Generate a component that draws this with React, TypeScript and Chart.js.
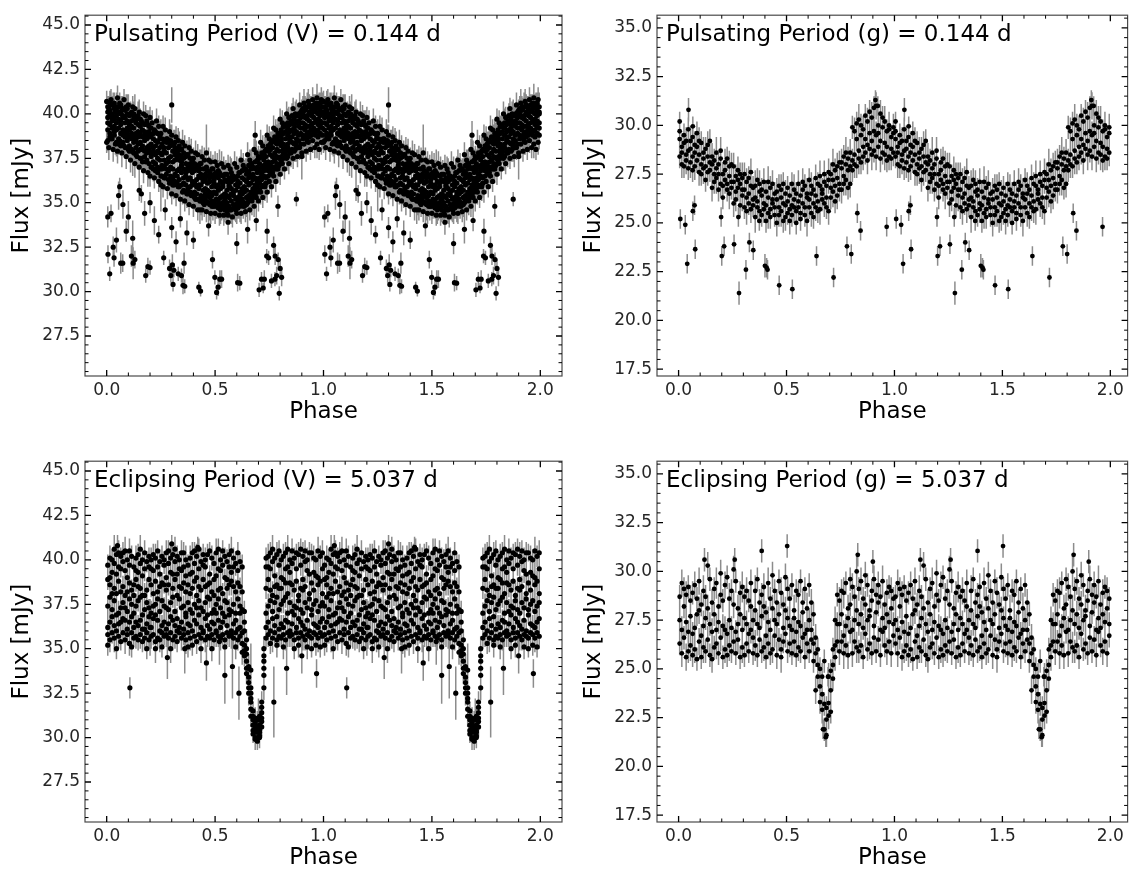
import React, { useEffect, useRef } from "react";
import { Chart, registerables } from "chart.js";

Chart.register(...registerables);

const FONT = "'DejaVu Sans', 'Liberation Sans', sans-serif";

// ---------------- DATA ----------------
// Each bin row: [phase, error, flux samples...]  (phase 0..1, drawn again at phase+1)
// Each extra row: [phase, flux, error]
const CYCLES = [0, 1];

const vPulsBins: number[][] = [
  [0.005, 0.6, 40.4, 39.1, 39.8, 38.5, 40.1, 39.5], [0.015, 0.7, 39.9, 40.6, 38.9, 39.4, 40.2, 38.7],
  [0.025, 0.5, 38.6, 39.6, 40.5, 40.0, 39.2, 39.8], [0.035, 0.6, 40.3, 39.0, 38.8, 39.7, 40.6, 39.3],
  [0.045, 0.8, 39.5, 40.2, 39.9, 38.4, 39.1, 40.4], [0.055, 0.6, 40.1, 38.6, 39.7, 39.2, 40.4, 38.3],
  [0.065, 0.5, 38.9, 40.0, 39.4, 40.5, 38.2, 39.6], [0.075, 0.7, 39.8, 38.4, 40.3, 39.1, 38.8, 39.9],
  [0.085, 0.6, 40.2, 39.5, 38.1, 39.0, 39.8, 38.7], [0.095, 0.8, 38.5, 39.2, 40.0, 38.9, 40.3, 39.6],
  [0.105, 0.6, 39.4, 38.2, 39.9, 38.7, 39.1, 37.9], [0.115, 0.5, 38.0, 39.6, 38.6, 40.1, 38.9, 39.3],
  [0.125, 0.7, 39.8, 38.4, 37.8, 39.2, 38.7, 40.0], [0.135, 0.6, 38.9, 39.5, 38.1, 37.7, 39.7, 38.5],
  [0.145, 0.8, 37.9, 38.7, 39.9, 39.0, 38.3, 39.4], [0.155, 0.6, 39.3, 38.0, 37.5, 38.9, 39.7, 38.4],
  [0.165, 0.5, 38.2, 39.5, 38.7, 37.3, 38.0, 39.1], [0.175, 0.7, 39.0, 37.6, 38.5, 39.4, 37.9, 38.8],
  [0.185, 0.6, 37.4, 38.9, 39.6, 38.1, 38.6, 37.8], [0.195, 0.9, 38.7, 38.2, 37.2, 39.3, 38.0, 39.0],
  [0.205, 0.6, 37.6, 38.8, 37.0, 38.3, 39.2, 37.8], [0.215, 0.7, 38.9, 37.3, 38.1, 36.9, 38.6, 37.9],
  [0.225, 0.5, 37.2, 38.5, 39.0, 37.7, 36.8, 38.2], [0.235, 0.6, 38.4, 37.0, 37.9, 38.9, 37.5, 36.7],
  [0.245, 0.8, 36.9, 38.1, 38.6, 37.4, 38.8, 37.8], [0.255, 0.6, 38.3, 36.5, 37.7, 38.6, 37.1, 36.9],
  [0.265, 0.7, 37.4, 38.5, 36.4, 37.9, 38.1, 37.0], [0.275, 0.6, 36.6, 37.2, 38.4, 36.9, 37.8, 38.6],
  [0.285, 0.5, 38.1, 36.8, 37.5, 38.4, 36.3, 37.3], [0.295, 0.9, 37.0, 38.2, 36.5, 37.6, 38.5, 36.2],
  [0.305, 0.6, 37.9, 36.4, 37.3, 38.3, 36.0, 36.9], [0.315, 0.7, 36.6, 37.7, 38.1, 36.2, 37.4, 38.4],
  [0.325, 0.6, 38.0, 36.8, 36.1, 37.5, 37.9, 36.5], [0.335, 0.8, 36.3, 37.4, 38.2, 36.9, 35.9, 37.7],
  [0.345, 0.6, 37.6, 36.0, 37.1, 38.0, 36.7, 37.3], [0.355, 0.5, 36.4, 37.5, 35.7, 36.9, 37.8, 36.1],
  [0.365, 0.7, 37.2, 36.0, 36.7, 35.6, 37.6, 36.5], [0.375, 0.6, 35.8, 37.0, 37.7, 36.3, 36.8, 35.5],
  [0.385, 0.8, 36.9, 35.9, 36.4, 37.5, 35.6, 37.2], [0.395, 0.6, 36.2, 37.4, 35.4, 36.7, 37.1, 36.0],
  [0.405, 0.7, 35.6, 36.8, 37.2, 35.3, 36.1, 36.9], [0.415, 0.6, 36.9, 35.5, 36.3, 37.1, 35.9, 35.2],
  [0.425, 0.5, 35.8, 37.0, 35.2, 36.5, 36.8, 36.0], [0.435, 0.8, 36.6, 35.4, 36.0, 37.2, 35.1, 36.4],
  [0.445, 0.6, 35.3, 36.4, 36.9, 35.7, 36.2, 35.0], [0.455, 0.7, 36.3, 35.2, 35.8, 36.9, 35.5, 36.6],
  [0.465, 0.6, 35.0, 36.5, 36.1, 35.4, 36.8, 35.7], [0.475, 0.9, 36.7, 35.6, 34.9, 36.2, 35.3, 36.4],
  [0.485, 0.6, 35.4, 36.9, 35.9, 34.8, 36.5, 35.1], [0.495, 0.5, 36.1, 35.0, 36.6, 35.6, 34.8, 36.3],
  [0.505, 0.7, 35.2, 36.5, 34.8, 35.9, 36.7, 35.5], [0.515, 0.6, 36.4, 35.1, 35.7, 36.8, 34.7, 36.0],
  [0.525, 0.8, 34.9, 36.2, 36.6, 35.3, 35.8, 34.6], [0.535, 0.6, 35.9, 34.7, 35.4, 36.5, 36.1, 35.0],
  [0.545, 0.7, 36.6, 35.5, 34.9, 35.2, 36.3, 34.6], [0.555, 0.6, 35.0, 36.2, 35.7, 34.5, 36.6, 35.4],
  [0.565, 0.5, 36.4, 34.8, 35.3, 36.0, 34.6, 35.9], [0.575, 0.8, 35.5, 36.7, 34.6, 35.1, 36.2, 35.8],
  [0.585, 0.6, 34.7, 35.6, 36.3, 34.9, 35.4, 36.5], [0.595, 0.7, 36.0, 35.2, 34.6, 36.4, 35.7, 34.9],
  [0.605, 0.6, 35.3, 36.5, 35.9, 34.7, 36.2, 35.0], [0.615, 0.9, 36.7, 35.1, 34.8, 35.6, 36.1, 35.4],
  [0.625, 0.6, 34.9, 35.8, 36.4, 35.2, 36.8, 35.5], [0.635, 0.5, 35.6, 36.9, 35.0, 36.3, 34.8, 35.9],
  [0.645, 0.7, 36.2, 34.9, 35.7, 36.6, 35.3, 36.8], [0.655, 0.6, 35.4, 36.7, 36.0, 35.1, 37.1, 36.4],
  [0.665, 0.8, 36.9, 35.6, 35.2, 36.5, 36.1, 37.2], [0.675, 0.6, 35.8, 37.0, 36.6, 35.3, 36.3, 35.5],
  [0.685, 0.7, 36.4, 35.5, 37.3, 36.0, 35.7, 36.9], [0.695, 0.6, 37.0, 36.2, 35.6, 37.4, 36.7, 35.9],
  [0.705, 0.5, 36.1, 37.5, 36.8, 35.7, 37.2, 36.4], [0.715, 0.7, 37.6, 36.3, 35.9, 37.0, 36.6, 37.8],
  [0.725, 0.6, 36.5, 37.8, 37.1, 36.0, 37.4, 36.8], [0.735, 0.8, 37.2, 36.4, 38.0, 36.9, 37.6, 36.1],
  [0.745, 0.6, 36.8, 37.9, 37.3, 38.2, 36.5, 37.0], [0.755, 0.7, 37.7, 36.6, 38.3, 37.1, 38.0, 36.8],
  [0.765, 0.6, 38.1, 37.3, 36.7, 38.5, 37.6, 37.0], [0.775, 0.5, 37.0, 38.4, 37.8, 36.9, 38.7, 37.4],
  [0.785, 0.8, 38.6, 37.2, 38.0, 37.6, 36.9, 38.3], [0.795, 0.6, 37.5, 38.8, 37.1, 38.4, 37.9, 38.9],
  [0.805, 0.7, 38.7, 37.6, 39.1, 38.2, 37.3, 38.5], [0.815, 0.6, 37.8, 38.9, 38.3, 39.3, 37.5, 38.0],
  [0.825, 0.5, 39.0, 38.1, 37.7, 38.6, 39.4, 37.9], [0.835, 0.8, 38.3, 39.5, 38.8, 37.6, 38.1, 39.2],
  [0.845, 0.6, 39.4, 37.9, 38.5, 39.0, 38.7, 37.8], [0.855, 0.7, 38.4, 39.6, 39.1, 38.0, 39.9, 38.7],
  [0.865, 0.6, 39.7, 38.3, 38.9, 39.4, 37.9, 39.2], [0.875, 0.9, 38.6, 39.9, 38.2, 39.5, 39.0, 38.4],
  [0.885, 0.6, 39.3, 38.5, 40.0, 38.8, 39.6, 38.1], [0.895, 0.5, 38.9, 39.8, 39.2, 38.3, 40.1, 39.5],
  [0.905, 0.7, 40.0, 38.8, 39.5, 40.3, 38.6, 39.2], [0.915, 0.6, 39.1, 40.2, 38.7, 39.8, 39.4, 40.4],
  [0.925, 0.8, 39.9, 38.9, 40.4, 39.3, 38.5, 39.7], [0.935, 0.6, 38.7, 39.6, 40.1, 39.0, 40.5, 39.3],
  [0.945, 0.7, 40.3, 39.4, 38.8, 39.9, 39.1, 40.0], [0.955, 0.6, 39.2, 40.5, 39.8, 38.9, 40.2, 39.5],
  [0.965, 0.5, 40.1, 39.0, 40.6, 39.6, 38.8, 40.3], [0.975, 0.7, 39.4, 40.4, 39.1, 40.0, 39.7, 38.7],
  [0.985, 0.6, 40.6, 39.3, 39.9, 38.9, 40.2, 39.6], [0.995, 0.8, 39.5, 40.0, 38.8, 40.4, 39.2, 40.1],
];

// outer parts of the V pulsation band: [phase, error, upper flux, lower flux]
const vPulsEdge: number[][] = [
  [0.00, 0.6, 40.7, 38.4], [0.01, 0.7, 40.3, 38.1], [0.02, 0.6, 40.8, 38.6], [0.03, 0.7, 40.5, 38.0],
  [0.04, 0.6, 40.1, 38.3], [0.05, 0.7, 40.9, 37.9], [0.06, 0.6, 40.6, 38.5], [0.07, 0.8, 40.2, 37.8],
  [0.08, 0.6, 40.8, 38.2], [0.09, 0.7, 40.4, 37.6], [0.10, 0.6, 40.5, 38.0], [0.11, 0.7, 40.0, 37.4],
  [0.12, 0.6, 40.4, 37.9], [0.13, 0.8, 40.3, 37.2], [0.14, 0.6, 39.8, 37.6], [0.15, 0.7, 40.1, 37.0],
  [0.16, 0.6, 39.6, 37.5], [0.17, 0.7, 40.0, 36.8], [0.18, 0.6, 39.9, 37.3], [0.19, 0.8, 39.4, 36.7],
  [0.20, 0.6, 39.8, 36.5], [0.21, 0.7, 39.5, 37.0], [0.22, 0.6, 39.1, 36.4], [0.23, 0.7, 39.6, 36.9],
  [0.24, 0.6, 39.3, 36.2], [0.25, 0.8, 38.9, 36.5], [0.26, 0.6, 39.3, 35.9], [0.27, 0.7, 39.1, 36.4],
  [0.28, 0.6, 38.6, 35.8], [0.29, 0.7, 39.0, 36.1], [0.30, 0.6, 38.8, 35.5], [0.31, 0.8, 38.3, 36.0],
  [0.32, 0.6, 38.7, 35.4], [0.33, 0.7, 38.5, 35.9], [0.34, 0.6, 38.0, 35.2], [0.35, 0.7, 38.4, 35.6],
  [0.36, 0.6, 38.2, 35.1], [0.37, 0.8, 37.7, 35.5], [0.38, 0.6, 38.1, 34.9], [0.39, 0.7, 37.9, 35.4],
  [0.40, 0.6, 37.5, 34.8], [0.41, 0.7, 37.8, 35.2], [0.42, 0.6, 37.7, 34.6], [0.43, 0.8, 37.2, 35.1],
  [0.44, 0.6, 37.6, 34.6], [0.45, 0.7, 37.4, 34.9], [0.46, 0.6, 37.0, 34.5], [0.47, 0.7, 37.4, 35.0],
  [0.48, 0.6, 37.3, 34.4], [0.49, 0.8, 36.9, 34.8], [0.50, 0.6, 37.3, 34.4], [0.51, 0.7, 37.1, 34.9],
  [0.52, 0.6, 36.7, 34.3], [0.53, 0.7, 37.2, 34.7], [0.54, 0.6, 37.0, 34.3], [0.55, 0.8, 36.6, 34.8],
  [0.56, 0.6, 37.1, 34.3], [0.57, 0.7, 36.9, 34.6], [0.58, 0.6, 36.5, 34.2], [0.59, 0.7, 37.2, 34.7],
  [0.60, 0.6, 37.0, 34.4], [0.61, 0.8, 36.7, 34.9], [0.62, 0.6, 37.4, 34.4], [0.63, 0.7, 37.1, 34.8],
  [0.64, 0.6, 36.9, 34.5], [0.65, 0.7, 37.7, 35.0], [0.66, 0.6, 37.4, 34.6], [0.67, 0.8, 37.2, 35.1],
  [0.68, 0.6, 38.0, 34.8], [0.69, 0.7, 37.8, 35.3], [0.70, 0.6, 37.6, 35.1], [0.71, 0.7, 38.4, 35.6],
  [0.72, 0.6, 38.2, 35.3], [0.73, 0.8, 37.9, 35.9], [0.74, 0.6, 38.8, 35.6], [0.75, 0.7, 38.6, 36.2],
  [0.76, 0.6, 38.4, 35.9], [0.77, 0.7, 39.2, 36.5], [0.78, 0.6, 39.1, 36.2], [0.79, 0.8, 38.9, 36.9],
  [0.80, 0.6, 39.7, 36.6], [0.81, 0.7, 39.5, 37.2], [0.82, 0.6, 39.3, 36.9], [0.83, 0.7, 40.0, 37.5],
  [0.84, 0.6, 39.8, 37.2], [0.85, 0.8, 39.6, 37.8], [0.86, 0.6, 40.3, 37.5], [0.87, 0.7, 40.0, 38.0],
  [0.88, 0.6, 39.9, 37.6], [0.89, 0.7, 40.5, 38.1], [0.90, 0.6, 40.2, 37.8], [0.91, 0.8, 40.6, 38.3],
  [0.92, 0.6, 40.3, 37.9], [0.93, 0.7, 40.7, 38.4], [0.94, 0.6, 40.4, 38.0], [0.95, 0.7, 40.8, 38.5],
  [0.96, 0.6, 40.5, 38.1], [0.97, 0.8, 40.9, 38.3], [0.98, 0.6, 40.6, 38.0], [0.99, 0.7, 40.8, 38.4],
];

const vPulsExtra: number[][] = [
  [0.014, 31.0, 0.4], [0.034, 31.9, 0.5], [0.065, 31.6, 0.6], [0.074, 31.6, 0.5], [0.114, 32.0, 0.6],
  [0.122, 31.6, 0.9], [0.13, 31.8, 0.5], [0.18, 30.9, 0.4], [0.19, 31.4, 0.5], [0.2, 31.35, 0.4],
  [0.263, 31.9, 0.4], [0.29, 31.3, 0.5], [0.296, 30.9, 0.4], [0.303, 31.5, 0.6], [0.306, 30.4, 0.4],
  [0.31, 31.2, 0.4], [0.33, 31.0, 0.4], [0.345, 30.9, 0.4], [0.352, 30.35, 0.5], [0.357, 31.6, 0.6],
  [0.36, 30.3, 0.4], [0.425, 30.25, 0.3], [0.433, 30.03, 0.3], [0.488, 31.8, 0.5], [0.499, 30.8, 0.4],
  [0.507, 29.95, 0.4], [0.514, 30.25, 0.5], [0.522, 30.7, 0.5], [0.53, 30.7, 0.5], [0.604, 30.5, 0.5],
  [0.614, 30.47, 0.4], [0.703, 30.1, 0.4], [0.714, 30.7, 0.4], [0.722, 30.2, 0.3], [0.727, 30.7, 0.5],
  [0.738, 32.0, 0.4], [0.747, 31.9, 0.4], [0.76, 30.6, 0.4], [0.776, 30.7, 0.4], [0.777, 32.0, 0.5],
  [0.784, 30.9, 0.5], [0.791, 31.8, 0.4], [0.796, 29.9, 0.4], [0.8, 31.3, 0.5], [0.807, 30.8, 0.5],
  [0.006, 32.1, 0.5], [0.005, 34.2, 0.6], [0.02, 34.4, 0.5], [0.03, 32.5, 0.6], [0.045, 32.9, 0.7],
  [0.055, 35.4, 0.8], [0.06, 35.9, 0.5], [0.075, 34.9, 0.8], [0.09, 33.4, 0.6], [0.1, 34.2, 0.9],
  [0.12, 33.0, 1.0], [0.15, 35.7, 0.6], [0.16, 35.5, 0.5], [0.175, 34.4, 0.7], [0.2, 35.0, 0.6],
  [0.22, 34.0, 0.8], [0.24, 33.2, 0.5], [0.27, 34.6, 0.6], [0.3, 33.6, 0.6], [0.32, 32.8, 0.6],
  [0.34, 34.1, 0.5], [0.37, 33.3, 0.7], [0.4, 32.9, 0.5], [0.43, 34.6, 0.8], [0.47, 33.7, 0.6],
  [0.56, 33.9, 0.7], [0.6, 32.7, 0.6], [0.65, 33.5, 0.8], [0.69, 34.0, 0.6], [0.74, 33.4, 0.7],
  [0.77, 32.6, 0.5], [0.79, 34.8, 0.6], [0.875, 35.2, 0.4], [0.3, 40.5, 1.0], [0.46, 37.8, 1.6],
  [0.685, 38.8, 0.8], [0.12, 37.9, 1.4], [0.25, 36.0, 1.5], [0.52, 36.6, 1.4], [0.9, 37.6, 1.3],
];

const gPulsBins: number[][] = [
  [0.005, 0.6, 29.3, 28.4, 29.7], [0.015, 0.7, 28.0, 28.9, 28.6], [0.025, 0.6, 29.5, 27.9, 29.1],
  [0.035, 0.7, 28.5, 29.2, 28.2], [0.045, 0.6, 29.8, 28.7, 27.8], [0.055, 0.8, 28.8, 28.1, 29.2],
  [0.065, 0.6, 27.7, 29.4, 28.4], [0.075, 0.7, 29.0, 28.6, 27.9], [0.085, 0.6, 28.2, 29.6, 28.9],
  [0.095, 0.7, 29.2, 27.6, 28.5], [0.105, 0.6, 28.0, 29.1, 27.5], [0.115, 0.8, 28.6, 27.8, 28.3],
  [0.125, 0.6, 27.2, 28.8, 27.9], [0.135, 0.7, 29.0, 28.4, 27.6], [0.145, 0.6, 27.7, 29.2, 28.1],
  [0.155, 0.7, 28.0, 26.8, 28.4], [0.165, 0.6, 27.5, 28.2, 27.1], [0.175, 0.8, 28.6, 27.3, 27.8],
  [0.185, 0.6, 26.7, 28.0, 27.5], [0.195, 0.7, 28.3, 27.0, 28.7], [0.205, 0.6, 26.9, 27.5, 26.3],
  [0.215, 0.7, 28.1, 27.2, 27.7], [0.225, 0.6, 26.7, 28.3, 27.0], [0.235, 0.8, 27.4, 26.5, 27.9],
  [0.245, 0.6, 27.1, 28.0, 26.8], [0.255, 0.7, 27.9, 26.0, 27.1], [0.265, 0.6, 26.6, 27.4, 26.2],
  [0.275, 0.7, 27.2, 26.8, 27.7], [0.285, 0.6, 25.9, 27.0, 27.5], [0.295, 0.8, 27.3, 26.4, 26.7],
  [0.305, 0.6, 25.8, 27.5, 26.7], [0.315, 0.7, 27.1, 26.3, 25.6], [0.325, 0.6, 26.5, 27.3, 26.0],
  [0.335, 0.7, 27.6, 25.7, 26.9], [0.345, 0.6, 26.2, 26.8, 25.9], [0.355, 0.8, 26.9, 25.3, 26.3],
  [0.365, 0.6, 25.8, 27.2, 26.1], [0.375, 0.7, 26.6, 25.6, 27.0], [0.385, 0.6, 25.4, 26.4, 26.7],
  [0.395, 0.7, 27.1, 26.0, 25.7], [0.405, 0.6, 25.9, 26.6, 25.1], [0.415, 0.8, 27.1, 25.5, 26.3],
  [0.425, 0.6, 25.7, 26.8, 25.3], [0.435, 0.7, 26.2, 26.0, 27.0], [0.445, 0.6, 25.4, 26.5, 25.8],
  [0.455, 0.7, 26.6, 25.0, 26.2], [0.465, 0.6, 25.8, 26.9, 25.4], [0.475, 0.8, 26.3, 25.6, 26.7],
  [0.485, 0.6, 25.1, 26.0, 27.0], [0.495, 0.7, 26.5, 25.3, 25.9], [0.505, 0.6, 25.5, 26.8, 26.1],
  [0.515, 0.7, 26.4, 25.1, 25.7], [0.525, 0.6, 25.9, 27.0, 25.4], [0.535, 0.8, 26.7, 25.8, 26.2],
  [0.545, 0.6, 25.0, 26.5, 25.6], [0.555, 0.7, 27.0, 25.8, 26.1], [0.565, 0.6, 25.5, 26.4, 25.2],
  [0.575, 0.7, 26.7, 26.0, 27.1], [0.585, 0.6, 25.8, 26.9, 25.4], [0.595, 0.8, 26.3, 25.1, 26.5],
  [0.605, 0.6, 25.8, 27.2, 26.2], [0.615, 0.7, 26.9, 25.5, 26.5], [0.625, 0.6, 25.3, 26.7, 26.0],
  [0.635, 0.7, 27.3, 25.8, 26.4], [0.645, 0.6, 26.1, 27.0, 25.6], [0.655, 0.8, 26.9, 25.7, 27.4],
  [0.665, 0.6, 26.2, 26.7, 26.5], [0.675, 0.7, 27.5, 26.0, 27.1], [0.685, 0.6, 25.8, 26.9, 26.3],
  [0.695, 0.7, 27.2, 25.6, 27.6], [0.705, 0.6, 26.8, 27.5, 26.3], [0.715, 0.8, 28.0, 26.6, 27.2],
  [0.725, 0.6, 26.1, 27.7, 26.9], [0.735, 0.7, 27.3, 26.4, 27.9], [0.745, 0.6, 26.7, 28.1, 27.0],
  [0.755, 0.7, 28.1, 26.7, 27.8], [0.765, 0.6, 27.0, 28.4, 27.4], [0.775, 0.8, 28.6, 27.2, 28.0],
  [0.785, 0.6, 26.8, 27.7, 28.3], [0.795, 0.7, 27.9, 27.0, 28.6], [0.805, 0.6, 29.9, 28.2, 27.7],
  [0.815, 0.7, 28.5, 29.7, 28.0], [0.825, 0.6, 30.1, 27.9, 29.3], [0.835, 0.8, 28.7, 30.3, 28.3],
  [0.845, 0.6, 29.5, 28.1, 30.0], [0.855, 0.7, 28.4, 29.8, 28.9], [0.865, 0.6, 30.5, 28.6, 29.3],
  [0.875, 0.7, 29.0, 30.2, 28.2], [0.885, 0.6, 28.8, 29.6, 30.7], [0.895, 0.8, 30.4, 28.5, 29.2],
  [0.905, 0.6, 29.7, 30.9, 28.7], [0.915, 0.7, 28.4, 29.5, 31.0], [0.925, 0.6, 30.0, 28.9, 29.6],
  [0.935, 0.7, 29.2, 30.6, 28.3], [0.945, 0.6, 28.6, 29.9, 30.4], [0.955, 0.8, 30.2, 28.5, 29.1],
  [0.965, 0.6, 28.9, 29.7, 28.2], [0.975, 0.7, 29.8, 28.4, 30.0], [0.985, 0.6, 28.3, 29.4, 28.8],
  [0.995, 0.7, 29.6, 28.6, 29.9],
];

const gPulsExtra: number[][] = [
  [0.005, 30.2, 0.5], [0.046, 30.8, 0.6], [0.066, 29.95, 0.5], [0.008, 25.2, 0.5], [0.031, 24.9, 0.5],
  [0.04, 22.9, 0.5], [0.066, 25.6, 0.5], [0.074, 25.9, 0.5], [0.077, 23.65, 0.5], [0.197, 25.3, 0.5],
  [0.2, 23.3, 0.5], [0.211, 23.8, 0.5], [0.257, 23.9, 0.5], [0.277, 25.3, 0.5], [0.28, 21.4, 0.6],
  [0.312, 22.6, 0.5], [0.328, 24.0, 0.5], [0.346, 23.6, 0.5], [0.374, 25.1, 0.5], [0.4, 22.8, 0.6],
  [0.408, 22.7, 0.5], [0.412, 22.6, 0.5], [0.466, 21.8, 0.5], [0.527, 21.6, 0.5], [0.639, 23.3, 0.5],
  [0.718, 22.2, 0.5], [0.78, 23.8, 0.5], [0.8, 23.4, 0.5], [0.828, 25.5, 0.5], [0.843, 24.6, 0.5],
  [0.964, 24.8, 0.5], [0.912, 31.3, 0.5], [0.923, 31.0, 0.5],
];

const vEclBins: number[][] = [
  [0.005, 0.6, 38.9, 36.2, 39.7, 35.8, 37.4, 35.2], [0.015, 0.7, 36.5, 40.1, 37.9, 35.5, 38.6, 39.0],
  [0.025, 0.6, 39.3, 35.9, 36.8, 40.0, 37.2, 38.1], [0.035, 0.8, 37.7, 39.8, 35.6, 38.4, 36.3, 40.6],
  [0.045, 0.6, 40.3, 36.0, 38.1, 36.9, 39.2, 35.0], [0.055, 0.7, 35.7, 38.8, 40.4, 37.0, 36.4, 39.6],
  [0.065, 0.5, 39.5, 37.3, 35.4, 38.2, 40.2, 36.5], [0.075, 0.6, 36.7, 39.9, 38.5, 35.9, 37.6, 40.4],
  [0.085, 0.8, 38.0, 35.5, 39.4, 36.6, 40.5, 37.3], [0.095, 0.6, 37.1, 40.0, 36.1, 39.0, 35.8, 38.2],
  [0.105, 0.7, 39.7, 36.5, 37.8, 35.3, 38.7, 40.5], [0.115, 0.6, 35.9, 38.3, 40.2, 36.8, 37.5, 35.1],
  [0.125, 0.5, 38.6, 36.2, 35.6, 39.6, 37.0, 38.0], [0.135, 0.7, 40.1, 37.4, 38.9, 35.7, 36.5, 39.4],
  [0.145, 0.6, 36.3, 39.3, 37.7, 40.3, 35.5, 38.5], [0.155, 0.8, 37.9, 35.8, 39.8, 36.6, 38.4, 40.6],
  [0.165, 0.6, 39.1, 36.9, 35.4, 38.0, 40.0, 36.1], [0.175, 0.7, 35.6, 40.4, 37.2, 39.5, 36.1, 38.0],
  [0.185, 0.6, 38.3, 36.4, 39.9, 35.9, 37.6, 35.0], [0.195, 0.5, 36.8, 38.9, 35.5, 40.2, 37.3, 39.6],
  [0.205, 0.7, 40.0, 37.0, 38.6, 36.2, 35.7, 39.5], [0.215, 0.6, 35.8, 39.4, 36.7, 38.1, 40.3, 37.4],
  [0.225, 0.8, 37.5, 35.4, 40.1, 36.9, 38.8, 35.0], [0.235, 0.6, 39.6, 36.6, 37.8, 35.6, 38.2, 40.5],
  [0.245, 0.7, 36.0, 38.5, 39.2, 37.1, 35.5, 39.9], [0.255, 0.6, 38.7, 40.2, 36.3, 35.9, 37.7, 35.1],
  [0.265, 0.5, 35.7, 37.4, 39.7, 36.5, 40.0, 38.6], [0.275, 0.7, 39.0, 36.1, 38.3, 40.4, 35.8, 37.3],
  [0.285, 0.6, 37.2, 39.8, 35.6, 38.6, 36.4, 40.5], [0.295, 0.8, 40.1, 35.9, 37.6, 36.8, 39.3, 35.0],
  [0.305, 0.6, 36.6, 38.4, 40.3, 35.5, 37.9, 39.2], [0.315, 0.7, 38.9, 36.3, 35.7, 39.9, 37.1, 40.6],
  [0.325, 0.6, 35.4, 39.2, 38.0, 36.7, 40.2, 36.0], [0.335, 0.5, 37.8, 40.0, 36.2, 38.5, 35.9, 39.5],
  [0.345, 0.7, 39.4, 35.6, 37.3, 40.4, 36.5, 38.4], [0.355, 0.6, 36.1, 38.7, 39.6, 35.8, 37.4, 40.4],
  [0.365, 0.8, 40.0, 37.0, 35.5, 38.2, 39.1, 36.8], [0.375, 0.6, 35.9, 39.7, 37.6, 36.4, 38.6, 35.1],
  [0.385, 0.7, 38.1, 36.3, 40.1, 37.2, 35.6, 39.2], [0.395, 0.6, 37.0, 40.4, 36.0, 39.3, 38.4, 35.2],
  [0.405, 0.5, 39.8, 35.7, 38.8, 36.6, 37.5, 40.5], [0.415, 0.7, 36.4, 38.0, 35.4, 40.2, 39.0, 37.3],
  [0.425, 0.6, 38.5, 36.9, 39.5, 35.8, 37.7, 40.6], [0.435, 0.8, 35.6, 39.9, 37.3, 38.3, 36.2, 35.0],
  [0.445, 0.6, 40.3, 37.1, 36.0, 38.9, 35.9, 39.7], [0.455, 0.7, 37.6, 35.5, 39.6, 36.7, 40.0, 38.5],
  [0.465, 0.6, 36.3, 38.6, 37.9, 40.3, 35.7, 36.9], [0.475, 0.5, 39.2, 36.1, 35.6, 37.8, 38.7, 40.5],
  [0.485, 0.7, 35.8, 40.1, 38.2, 36.5, 37.0, 35.0], [0.495, 0.6, 38.0, 37.2, 39.8, 35.5, 36.4, 38.9],
  [0.505, 0.8, 40.4, 36.0, 37.5, 39.1, 35.9, 37.0], [0.515, 0.6, 36.6, 39.5, 35.7, 38.3, 37.8, 40.6],
  [0.525, 0.7, 37.3, 35.6, 40.0, 36.2, 39.4, 38.4], [0.535, 0.6, 39.7, 38.1, 36.5, 35.8, 37.0, 40.5],
  [0.545, 0.5, 35.5, 37.7, 39.0, 40.2, 36.8, 35.1], [0.555, 0.7, 38.4, 36.3, 35.9, 37.6, 39.9, 38.9],
  [0.565, 0.6, 36.9, 40.3, 38.6, 35.7, 37.2, 39.6], [0.575, 0.8, 39.3, 35.8, 37.1, 38.8, 36.0, 40.5],
  [0.585, 0.6, 37.5, 39.6, 36.4, 35.6, 40.1, 38.5], [0.595, 0.7, 35.9, 38.2, 39.8, 37.0, 36.6, 35.1],
  [0.605, 0.6, 38.7, 36.1, 35.5, 39.4, 37.8, 40.4], [0.615, 0.5, 36.2, 39.9, 37.4, 35.7, 38.5, 37.0],
  [0.625, 0.7, 35.9, 34.8, 38.2, 35.3, 39.6, 37.2], [0.635, 0.6, 35.2, 34.6, 36.0, 34.9, 37.1, 36.5],
  [0.645, 0.6, 34.3, 33.6, 35.0, 33.9, 34.7, 35.5], [0.655, 0.7, 33.4, 32.8, 33.9, 32.5, 33.1, 34.0],
  [0.665, 0.6, 32.2, 31.6, 32.8, 31.2, 32.0, 32.5], [0.675, 0.5, 31.0, 30.4, 31.5, 30.7, 30.2, 31.2],
  [0.685, 0.6, 30.3, 30.8, 29.9, 30.5, 31.1, 30.0], [0.695, 0.5, 30.6, 30.0, 30.3, 29.8, 31.0, 30.5],
  [0.705, 0.6, 30.1, 30.7, 30.4, 31.2, 30.0, 30.3], [0.715, 0.6, 31.4, 30.6, 32.0, 30.9, 31.7, 31.1],
  [0.725, 0.7, 33.5, 34.3, 32.8, 35.0, 33.9, 34.6], [0.735, 0.6, 35.6, 38.4, 36.2, 39.6, 37.0, 40.1],
  [0.745, 0.7, 40.2, 36.5, 38.9, 35.8, 37.4, 39.6], [0.755, 0.6, 37.7, 39.5, 36.0, 40.4, 38.3, 35.3],
  [0.765, 0.8, 35.6, 38.0, 39.9, 36.7, 37.1, 40.6], [0.775, 0.6, 39.1, 36.3, 37.6, 35.9, 40.1, 38.5],
  [0.785, 0.7, 36.8, 40.3, 35.5, 38.6, 37.9, 35.2], [0.795, 0.6, 38.4, 35.7, 39.7, 37.2, 36.1, 40.5],
  [0.805, 0.5, 40.0, 37.5, 36.4, 39.0, 35.6, 38.4], [0.815, 0.7, 35.8, 38.9, 37.7, 36.2, 40.2, 35.1],
  [0.825, 0.6, 37.9, 36.6, 40.4, 35.5, 38.7, 39.5], [0.835, 0.8, 39.6, 35.9, 37.0, 38.1, 36.5, 40.6],
  [0.845, 0.6, 36.0, 39.3, 35.7, 40.0, 37.6, 38.7], [0.855, 0.7, 38.6, 37.1, 39.8, 36.4, 35.8, 40.5],
  [0.865, 0.6, 35.5, 40.1, 38.3, 37.4, 36.9, 35.0], [0.875, 0.5, 37.3, 36.2, 35.9, 39.5, 38.8, 40.4],
  [0.885, 0.7, 40.3, 38.0, 36.7, 35.6, 37.7, 35.2], [0.895, 0.6, 36.5, 39.7, 37.2, 38.4, 35.9, 40.6],
  [0.905, 0.8, 38.9, 35.7, 40.2, 36.3, 37.0, 38.3], [0.915, 0.6, 37.6, 38.5, 36.1, 39.9, 35.5, 40.5],
  [0.925, 0.7, 35.8, 37.3, 39.4, 36.6, 40.0, 35.1], [0.935, 0.6, 39.2, 36.0, 38.1, 35.7, 37.8, 40.4],
  [0.945, 0.5, 36.9, 40.4, 35.6, 38.7, 37.2, 35.0], [0.955, 0.7, 38.3, 35.9, 37.5, 40.1, 36.4, 39.3],
  [0.965, 0.6, 40.0, 37.7, 36.3, 35.8, 39.1, 35.2], [0.975, 0.8, 35.6, 39.0, 38.6, 37.1, 36.2, 40.5],
  [0.985, 0.6, 37.4, 36.5, 40.2, 35.9, 38.8, 35.1], [0.995, 0.7, 39.5, 38.1, 35.7, 36.7, 37.6, 40.4],
];

const vEclExtra: number[][] = [
  [0.107, 32.8, 0.6], [0.545, 33.5, 1.6], [0.771, 32.0, 2.0], [0.968, 33.6, 0.8], [0.58, 34.0, 1.8],
  [0.28, 34.5, 1.2], [0.46, 34.2, 1.0], [0.83, 33.9, 1.5], [0.9, 34.6, 1.0], [0.61, 32.5, 1.5],
  [0.05, 40.8, 0.6], [0.3, 40.9, 0.5], [0.42, 40.7, 0.6], [0.2, 36.2, 1.6], [0.36, 35.0, 1.4],
  [0.7, 31.0, 1.2], [0.665, 33.8, 1.5], [0.52, 35.4, 1.3],
];

const gEclBins: number[][] = [
  [0.005, 0.6, 28.7, 26.3, 27.5], [0.015, 0.7, 25.8, 29.4, 27.0], [0.025, 0.6, 28.2, 26.6, 29.1],
  [0.035, 0.7, 27.4, 25.6, 28.8], [0.045, 0.6, 29.2, 26.9, 25.9], [0.055, 0.8, 26.2, 28.5, 27.7],
  [0.065, 0.6, 28.9, 25.7, 26.8], [0.075, 0.7, 27.1, 29.3, 26.0], [0.085, 0.6, 25.5, 27.8, 28.6],
  [0.095, 0.7, 28.0, 26.4, 29.5], [0.105, 0.6, 26.7, 28.3, 25.6], [0.115, 0.8, 29.0, 27.2, 26.1],
  [0.125, 0.6, 25.9, 28.7, 27.6], [0.135, 0.7, 30.3, 26.5, 28.1], [0.145, 0.6, 27.3, 25.7, 29.6],
  [0.155, 0.7, 28.4, 26.9, 25.5], [0.165, 0.6, 26.1, 29.1, 27.8], [0.175, 0.8, 29.4, 27.0, 26.3],
  [0.185, 0.6, 25.8, 28.2, 27.4], [0.195, 0.7, 28.8, 26.6, 29.9], [0.205, 0.6, 27.2, 25.6, 28.5],
  [0.215, 0.7, 26.0, 29.3, 27.0], [0.225, 0.6, 29.7, 26.8, 25.7], [0.235, 0.8, 27.5, 28.6, 26.2],
  [0.245, 0.6, 25.9, 27.1, 29.0], [0.255, 0.7, 30.1, 26.4, 28.3], [0.265, 0.6, 26.9, 29.5, 25.8],
  [0.275, 0.7, 28.1, 27.3, 26.5], [0.285, 0.6, 25.6, 28.9, 27.8], [0.295, 0.8, 29.2, 26.1, 27.0],
  [0.305, 0.6, 27.6, 25.7, 28.7], [0.315, 0.7, 26.3, 29.0, 27.3], [0.325, 0.6, 28.5, 26.8, 25.9],
  [0.335, 0.7, 27.0, 28.2, 29.4], [0.345, 0.6, 25.8, 27.5, 26.6], [0.355, 0.8, 29.0, 26.2, 28.0],
  [0.365, 0.6, 27.3, 29.6, 25.7], [0.375, 0.7, 26.5, 28.4, 27.1], [0.385, 0.6, 28.8, 25.9, 27.7],
  [0.395, 0.7, 26.1, 29.2, 28.2], [0.405, 0.6, 27.9, 26.7, 25.6], [0.415, 0.8, 29.4, 27.4, 26.3],
  [0.425, 0.6, 25.8, 28.6, 27.0], [0.435, 0.7, 28.1, 26.0, 29.8], [0.445, 0.6, 26.7, 29.0, 27.5],
  [0.455, 0.7, 27.3, 25.7, 28.4], [0.465, 0.6, 29.5, 26.5, 27.8], [0.475, 0.8, 26.0, 28.9, 25.6],
  [0.485, 0.6, 28.3, 27.1, 26.4], [0.495, 0.7, 29.7, 26.8, 28.0], [0.505, 0.6, 25.9, 27.6, 29.1],
  [0.515, 0.7, 28.6, 26.3, 27.2], [0.525, 0.6, 27.0, 29.3, 25.8], [0.535, 0.8, 26.4, 28.0, 27.6],
  [0.545, 0.6, 29.0, 25.7, 26.9], [0.555, 0.7, 27.4, 28.8, 26.1], [0.565, 0.6, 25.9, 27.2, 29.5],
  [0.575, 0.7, 28.4, 26.6, 27.9], [0.585, 0.6, 26.8, 29.1, 25.6], [0.595, 0.8, 28.1, 27.0, 26.3],
  [0.605, 0.6, 29.3, 25.9, 27.5], [0.615, 0.7, 26.5, 28.4, 27.0], [0.625, 0.6, 26.3, 25.4, 27.8],
  [0.635, 0.7, 25.8, 23.9, 26.6], [0.645, 0.6, 25.2, 24.6, 26.0], [0.655, 0.6, 24.1, 23.3, 25.0],
  [0.665, 0.7, 23.7, 24.6, 22.9], [0.675, 0.6, 21.9, 23.2, 25.4], [0.685, 0.6, 21.6, 22.4, 23.0],
  [0.695, 0.7, 22.6, 24.6, 23.25], [0.705, 0.6, 22.8, 23.9, 24.9], [0.715, 0.6, 25.2, 26.0, 24.5],
  [0.725, 0.7, 26.2, 27.5, 25.6], [0.735, 0.6, 28.8, 26.4, 27.3], [0.745, 0.7, 28.5, 25.9, 27.3],
  [0.755, 0.6, 26.4, 29.0, 27.8], [0.765, 0.8, 28.9, 26.7, 25.8], [0.775, 0.6, 27.2, 29.4, 26.2],
  [0.785, 0.7, 25.7, 28.1, 27.6], [0.795, 0.6, 29.6, 26.9, 28.3], [0.805, 0.7, 27.0, 25.8, 29.2],
  [0.815, 0.6, 28.7, 26.4, 27.5], [0.825, 0.8, 26.1, 30.0, 28.0], [0.835, 0.6, 29.1, 27.3, 25.9],
  [0.845, 0.7, 27.8, 26.2, 29.5], [0.855, 0.6, 25.6, 28.6, 27.1], [0.865, 0.7, 28.3, 26.8, 29.8],
  [0.875, 0.6, 27.5, 29.3, 26.0], [0.885, 0.8, 26.3, 28.0, 27.7], [0.895, 0.6, 29.0, 25.8, 28.5],
  [0.905, 0.7, 27.2, 29.6, 26.6], [0.915, 0.6, 25.9, 27.9, 28.8], [0.925, 0.7, 28.4, 26.5, 29.3],
  [0.935, 0.6, 27.0, 28.7, 25.7], [0.945, 0.8, 29.5, 26.9, 27.6], [0.955, 0.6, 26.2, 28.3, 27.1],
  [0.965, 0.7, 28.9, 25.9, 27.8], [0.975, 0.6, 27.4, 29.2, 26.4], [0.985, 0.7, 25.8, 28.1, 29.0],
  [0.995, 0.6, 28.6, 26.7, 27.3],
];

const gEclExtra: number[][] = [
  [0.385, 31.05, 0.6], [0.503, 31.3, 0.6], [0.83, 30.85, 0.6], [0.12, 30.6, 0.6], [0.26, 30.6, 0.6],
  [0.9, 30.5, 0.6], [0.669, 21.9, 0.5], [0.682, 21.5, 0.5], [0.692, 24.6, 0.5],
];

const panelTitles = [
  "Pulsating Period (V) = 0.144 d",
  "Pulsating Period (g) = 0.144 d",
  "Eclipsing Period (V) = 5.037 d",
  "Eclipsing Period (g) = 5.037 d",
];
const xLabel = "Phase";
const yLabel = "Flux [mJy]";
const vRange = [25.25, 45.55];
const gRange = [17.15, 35.65];
const xMajorStep = 0.5;
const xMinorStep = 0.1;
const yMajorStep = 2.5;
const yMinorStep = 0.5;

// ---------------- helpers ----------------
type Pt = { x: number; y: number; e: number };

function buildPoints(bins: number[][], extras: number[][]): Pt[] {
  const pts: Pt[] = [];
  for (const c of CYCLES) {
    for (const r of bins) {
      const ph = r[0];
      const err = r[1];
      for (let i = 2; i < r.length; i++) pts.push({ x: ph + c, y: r[i], e: err });
    }
    for (const r of extras) pts.push({ x: r[0] + c, y: r[1], e: r[2] });
  }
  return pts;
}

const panelPlugin = {
  id: "panel",
  beforeDatasetsDraw(chart: any) {
    const { ctx, chartArea: a } = chart;
    const xs = chart.scales.x;
    const ys = chart.scales.y;
    ctx.save();
    ctx.beginPath();
    ctx.rect(a.left, a.top, a.right - a.left, a.bottom - a.top);
    ctx.clip();
    ctx.strokeStyle = "#8c8c8c";
    ctx.lineWidth = 1.5;
    ctx.beginPath();
    for (const p of chart.data.datasets[0].data as Pt[]) {
      const px = xs.getPixelForValue(p.x);
      ctx.moveTo(px, ys.getPixelForValue(p.y - p.e));
      ctx.lineTo(px, ys.getPixelForValue(p.y + p.e));
    }
    ctx.stroke();
    ctx.restore();
  },
  afterDraw(chart: any, _args: any, opts: any) {
    const { ctx, chartArea: a } = chart;
    const xs = chart.scales.x;
    const ys = chart.scales.y;
    ctx.save();
    ctx.strokeStyle = "#4a4a4a";
    ctx.lineWidth = 1.2;
    ctx.strokeRect(a.left, a.top, a.right - a.left, a.bottom - a.top);
    ctx.strokeStyle = "#000";
    const majLen = 6;
    const minLen = 3.5;
    const drawX = (v: number, len: number, w: number) => {
      const px = xs.getPixelForValue(v);
      if (px <= a.left + 0.5 || px >= a.right - 0.5) return;
      ctx.lineWidth = w;
      ctx.beginPath();
      ctx.moveTo(px, a.bottom);
      ctx.lineTo(px, a.bottom - len);
      ctx.moveTo(px, a.top);
      ctx.lineTo(px, a.top + len);
      ctx.stroke();
    };
    const drawY = (v: number, len: number, w: number) => {
      const py = ys.getPixelForValue(v);
      if (py <= a.top + 0.5 || py >= a.bottom - 0.5) return;
      ctx.lineWidth = w;
      ctx.beginPath();
      ctx.moveTo(a.left, py);
      ctx.lineTo(a.left + len, py);
      ctx.moveTo(a.right, py);
      ctx.lineTo(a.right - len, py);
      ctx.stroke();
    };
    for (const t of xs.ticks) drawX(t.value, majLen, 1.3);
    for (const t of ys.ticks) drawY(t.value, majLen, 1.3);
    const ratioX = Math.round(xMajorStep / xMinorStep);
    for (let k = Math.ceil(xs.min / xMinorStep - 1e-6); k <= Math.floor(xs.max / xMinorStep + 1e-6); k++) {
      if (k % ratioX === 0) continue;
      drawX(k * xMinorStep, minLen, 1);
    }
    const ratioY = Math.round(yMajorStep / yMinorStep);
    for (let k = Math.ceil(ys.min / yMinorStep - 1e-6); k <= Math.floor(ys.max / yMinorStep + 1e-6); k++) {
      if (k % ratioY === 0) continue;
      drawY(k * yMinorStep, minLen, 1);
    }
    ctx.fillStyle = "#000";
    ctx.font = `23px ${FONT}`;
    ctx.textBaseline = "alphabetic";
    ctx.textAlign = "left";
    ctx.fillText(opts.label, a.left + 9, a.top + 26);
    ctx.restore();
  },
};

type PanelProps = {
  left: number;
  top: number;
  width: number;
  height: number;
  areaRight: number;
  xMax: number;
  yRange: number[];
  bins: number[][];
  extras: number[][];
  label: string;
  radius: number;
};

function Panel(props: PanelProps) {
  const ref = useRef<HTMLCanvasElement | null>(null);
  useEffect(() => {
    if (!ref.current) return;
    const pts = buildPoints(props.bins, props.extras);
    const tickFont = { family: FONT, size: 17 };
    const titleFont = { family: FONT, size: 23 };
    const chart = new Chart(ref.current, {
      type: "scatter",
      data: {
        datasets: [
          {
            data: pts as any,
            pointRadius: props.radius,
            pointHoverRadius: props.radius,
            pointBackgroundColor: "#000",
            pointBorderWidth: 0,
            borderColor: "#000",
            showLine: false,
          },
        ],
      },
      options: {
        responsive: false,
        maintainAspectRatio: false,
        animation: false,
        events: [],
        layout: { padding: { left: 0, top: 6, right: props.width - props.areaRight, bottom: 0 } },
        plugins: {
          legend: { display: false },
          tooltip: { enabled: false },
          panel: { label: props.label },
        } as any,
        scales: {
          x: {
            type: "linear",
            min: -0.1,
            max: props.xMax,
            grid: { display: false, drawTicks: false },
            border: { display: false },
            ticks: {
              stepSize: xMajorStep,
              includeBounds: false,
              autoSkip: false,
              maxRotation: 0,
              padding: 4,
              color: "#262626",
              font: tickFont,
              callback: (v: any) => Number(v).toFixed(1),
            },
            title: {
              display: true,
              text: xLabel,
              color: "#000",
              font: titleFont,
              padding: { top: 0, bottom: 20 },
            },
            afterFit: (s: any) => {
              s.height = 70;
            },
          },
          y: {
            type: "linear",
            min: props.yRange[0],
            max: props.yRange[1],
            grid: { display: false, drawTicks: false },
            border: { display: false },
            ticks: {
              stepSize: yMajorStep,
              includeBounds: false,
              autoSkip: false,
              padding: 5,
              color: "#262626",
              font: tickFont,
              callback: (v: any) => Number(v).toFixed(1),
            },
            title: {
              display: true,
              text: yLabel,
              color: "#000",
              font: titleFont,
              padding: { top: 8, bottom: 0 },
            },
            afterFit: (s: any) => {
              s.width = 85;
            },
          },
        },
      },
      plugins: [panelPlugin as any],
    });
    return () => chart.destroy();
  }, []);
  return (
    <canvas
      ref={ref}
      width={props.width}
      height={props.height}
      style={{ position: "absolute", left: props.left, top: props.top, width: props.width, height: props.height }}
    />
  );
}

export default function App() {
  useEffect(() => {
    document.body.style.margin = "0";
    document.body.style.background = "#fff";
  }, []);
  return (
    <div style={{ position: "fixed", left: 0, top: 0, width: 1130, height: 872, background: "#fff", overflow: "hidden" }}>
      <Panel left={0} top={0} width={565} height={446} areaRight={562} xMax={2.1} yRange={vRange}
        bins={[...vPulsBins, ...vPulsEdge]} extras={vPulsExtra} label={panelTitles[0]} radius={2.6} />
      <Panel left={572} top={0} width={558} height={446} areaRight={557} xMax={2.08} yRange={gRange}
        bins={gPulsBins} extras={gPulsExtra} label={panelTitles[1]} radius={2.4} />
      <Panel left={0} top={446} width={565} height={446} areaRight={562} xMax={2.1} yRange={vRange}
        bins={vEclBins} extras={vEclExtra} label={panelTitles[2]} radius={2.6} />
      <Panel left={572} top={446} width={558} height={446} areaRight={557} xMax={2.08} yRange={gRange}
        bins={gEclBins} extras={gEclExtra} label={panelTitles[3]} radius={2.4} />
    </div>
  );
}
